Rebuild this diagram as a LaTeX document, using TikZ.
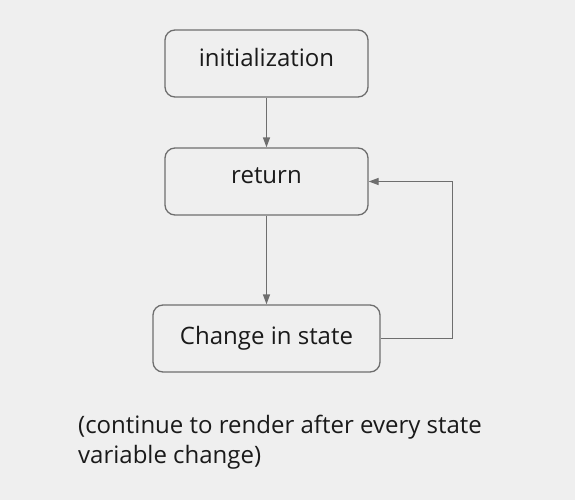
\documentclass[tikz,border=0pt]{standalone}
\usepackage{fontspec}
\setmainfont{Open Sans}
\usetikzlibrary{arrows.meta}
\definecolor{bgcol}{HTML}{EFEFEF}
\definecolor{linecol}{HTML}{6E6E6E}
\definecolor{txtcol}{HTML}{1A1A1A}

\begin{document}
\begin{tikzpicture}[x=1pt,y=-1pt]
\fill[bgcol] (0,0) rectangle (575,500);
\useasboundingbox (0,0) rectangle (575,500);

\begin{scope}[every node/.style={draw=linecol,line width=1.3pt,rounded corners=10pt,
              fill=bgcol,text=txtcol,font=\fontsize{24}{28}\selectfont,
              minimum height=67pt,inner sep=0pt}]
\node[minimum width=203pt,text depth=13pt] (init) at (266.5,63.5) {initialization};
\node[minimum width=203pt,text depth=11pt] (ret) at (266.5,181.5) {return};
\node[minimum width=227pt] (chg) at (266.5,338.5) {Change in state};
\end{scope}

\begin{scope}[>={Triangle[length=10pt,width=7pt,linecol]},
              every edge/.style={draw=linecol,line width=1.3pt}]
\path [->] (init) edge (ret);
\path [->] (ret) edge (chg);
\draw [->,draw=linecol,line width=1.3pt] (chg.east) -- ++(72,0) |- (ret.east);
\end{scope}

% note under the loop
\node[anchor=base west,align=left,text=txtcol,inner sep=0pt,
      font=\fontsize{24}{30}\selectfont] (note) at (78,463)
  {(continue to render after every state\\variable change)};
\end{tikzpicture}
\end{document}
